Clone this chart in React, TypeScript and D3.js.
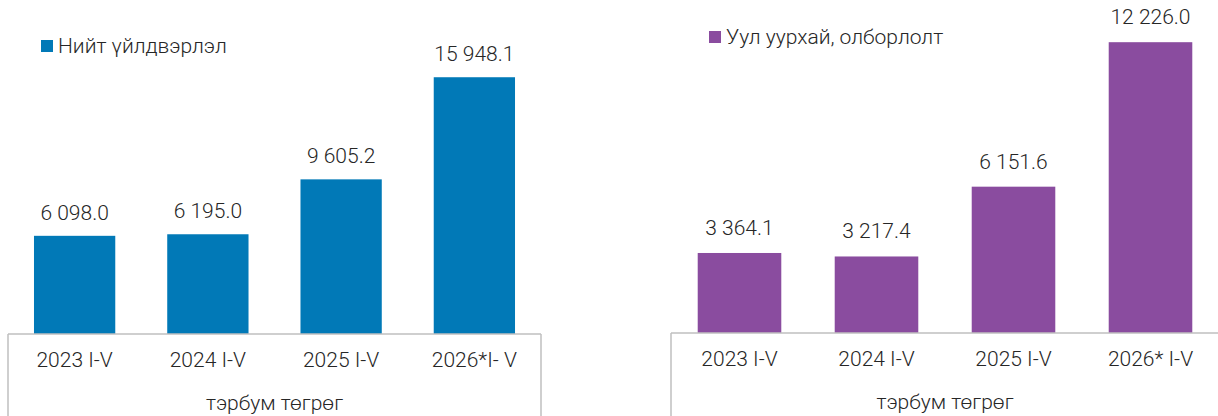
import React from "react";
import * as d3 from "d3";

const categoriesLeft = ["2023 I-V", "2024 I-V", "2025 I-V", "2026*I- V"];
const valuesLeft = [6098.0, 6195.0, 9605.2, 15948.1];
const legendLeft = "Нийт үйлдвэрлэл";

const categoriesRight = ["2023 I-V", "2024 I-V", "2025 I-V", "2026* I-V"];
const valuesRight = [3364.1, 3217.4, 6151.6, 12226.0];
const legendRight = "Уул уурхай, олборлолт";

const unitLabel = "тэрбум төгрөг";

const fmt = (v: number) => d3.format(",.1f")(v).replace(/,/g, " ");

const FONT = "Roboto, 'Noto Sans', sans-serif";
const TEXT = "#262626";
const AXIS = "#BFBFBF";
const FS = 21;
const FW = 300;

type PanelProps = {
  cats: string[];
  vals: number[];
  legend: string;
  color: string;
  x0: number;
  x1: number;
  base: number;
  yMax: number;
  yTop: number;
  legendX: number;
  legendY: number;
  labelOff: number;
  drawRight: boolean;
};

function Panel(p: PanelProps) {
  const x = d3
    .scaleBand<string>()
    .domain(p.cats)
    .range([p.x0, p.x1])
    .paddingInner(0.39)
    .paddingOuter(0.195);
  const y = d3.scaleLinear().domain([0, p.yMax]).range([p.base, p.yTop]);
  const bottom = 416;
  return (
    <g>
      {p.cats.map((c, i) => (
        <g key={c}>
          <rect
            x={x(c)}
            y={y(p.vals[i])}
            width={x.bandwidth()}
            height={p.base - y(p.vals[i])}
            fill={p.color}
          />
          <text
            x={(x(c) as number) + x.bandwidth() / 2}
            y={y(p.vals[i]) - p.labelOff}
            textAnchor="middle"
            fontSize={FS}
            fontWeight={FW}
            fill={TEXT}
            fontFamily={FONT}
          >
            {fmt(p.vals[i])}
          </text>
          <text
            x={(x(c) as number) + x.bandwidth() / 2}
            y={p.base + 33}
            textAnchor="middle"
            fontSize={FS}
            fontWeight={FW}
            fill={TEXT}
            fontFamily={FONT}
          >
            {c}
          </text>
        </g>
      ))}
      <line x1={p.x0} x2={p.x1} y1={p.base} y2={p.base} stroke={AXIS} strokeWidth={1.5} />
      <line x1={p.x0} x2={p.x0} y1={p.base} y2={bottom} stroke={AXIS} strokeWidth={1.5} />
      {p.drawRight && (
        <line x1={p.x1} x2={p.x1} y1={p.base} y2={bottom} stroke={AXIS} strokeWidth={1.5} />
      )}
      <text
        x={(p.x0 + p.x1) / 2}
        y={p.base + 76}
        textAnchor="middle"
        fontSize={FS}
        fontWeight={FW}
        fill={TEXT}
        fontFamily={FONT}
      >
        {unitLabel}
      </text>
      <rect x={p.legendX} y={p.legendY - 6} width={12} height={12} fill={p.color} />
      <text
        x={p.legendX + 17}
        y={p.legendY + 7}
        fontSize={FS}
        fontWeight={FW}
        fill={TEXT}
        fontFamily={FONT}
      >
        {p.legend}
      </text>
    </g>
  );
}

export default function App() {
  return (
    <svg
      width={1218}
      height={416}
      style={{ position: "absolute", left: 0, top: 0, background: "#fff" }}
    >
      <Panel
        cats={categoriesLeft}
        vals={valuesLeft}
        legend={legendLeft}
        color="#0179B7"
        x0={8}
        x1={541}
        base={334}
        yMax={20000}
        yTop={12}
        legendX={41}
        legendY={46}
        labelOff={16}
        drawRight={true}
      />
      <Panel
        cats={categoriesRight}
        vals={valuesRight}
        legend={legendRight}
        color="#8A4C9F"
        x0={671}
        x1={1219}
        base={333}
        yMax={14000}
        yTop={0}
        legendX={709}
        legendY={37}
        labelOff={18}
        drawRight={false}
      />
    </svg>
  );
}
